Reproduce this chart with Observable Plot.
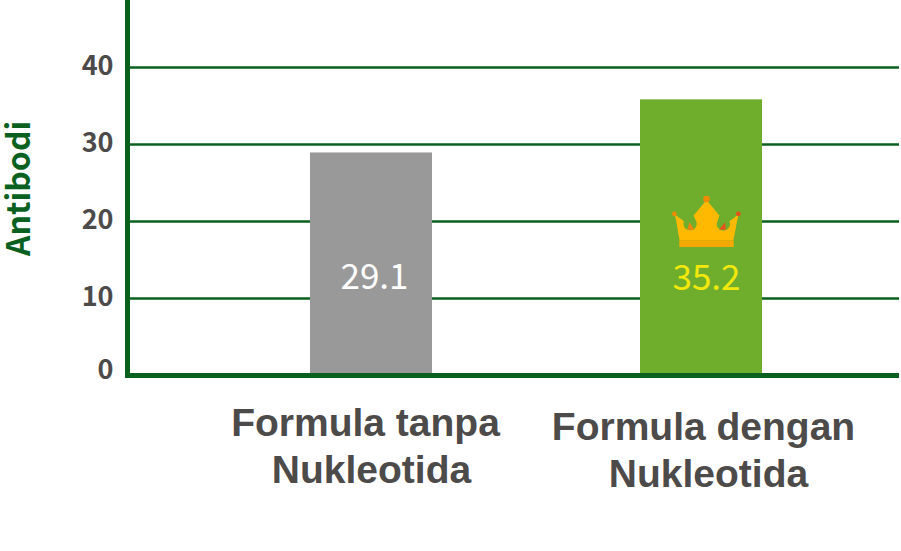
<!DOCTYPE html>
<html><head><meta charset="utf-8">
<style>html,body{margin:0;padding:0;background:#fff}svg{display:block}</style>
<script src="https://cdn.jsdelivr.net/npm/d3@7"></script>
<script src="https://cdn.jsdelivr.net/npm/@observablehq/plot@0.6"></script>
</head><body><div id="c"></div>
<script>
const categories = ["Formula tanpa\nNukleotida", "Formula dengan\nNukleotida"];
const barValues = [28.9, 35.8];
const valueLabels = ["29.1", "35.2"];
const valueColors = ["#ffffff", "#f2e80c"];
const barColors = ["#999999", "#6fae2d"];
const yTicks = [10, 20, 30, 40];
const green = "#0a611f", grey = "#4d4a4a";
const rows = categories.map((c, i) => ({c, v: barValues[i], t: valueLabels[i], tc: valueColors[i], bc: barColors[i]}));
const crownSvg = `<svg xmlns="http://www.w3.org/2000/svg" viewBox="95 45 208 156" width="208" height="156">
<path fill="#ffb900" d="M118 180L104 102L131 122A20 20 0 1 0 168 122L160 105L199 58L238 105L232 122A20 20 0 1 0 268 122L295 102L280 180Z"/>
<path fill="#f0820f" d="M141 148L148 125L162 148Z"/>
<path fill="#e8501c" d="M237 147L255 125L257 148Z"/>
<rect x="117" y="180" width="164" height="20" fill="#f5a900"/>
<circle cx="199" cy="55" r="10" fill="#f08a00"/><circle cx="102" cy="100" r="7" fill="#f08a00"/><circle cx="295" cy="100" r="7" fill="#e8501c"/></svg>`;
const crownSrc = "data:image/svg+xml," + encodeURIComponent(crownSvg);
const tickFont = {fontFamily: "Noto Sans CJK SC", fontWeight: 700, fontSize: 27};
const labelFont = {lineAnchor: "top", fill: grey, fontFamily: "Liberation Sans", fontWeight: 700, fontSize: 39};
const line = (i) => (d) => d.c.split("\n")[i];
const chart = Plot.plot({
  width: 901, height: 551,
  marginTop: 0, marginLeft: 127, marginRight: 2, marginBottom: 176,
  style: {background: "#fff", overflow: "visible"},
  x: {domain: categories, range: [206, 866], paddingInner: 0.63, paddingOuter: 0.315, axis: null},
  y: {domain: [0, 48.7], axis: null},
  marks: [
    Plot.ruleY(yTicks, {stroke: green, strokeWidth: 2.5}),
    Plot.barY(rows, {x: "c", y: "v", fill: "bc"}),
    Plot.frame({anchor: "left", stroke: green, strokeWidth: 5}),
    Plot.ruleY([0], {stroke: green, strokeWidth: 5}),
    Plot.axisY(yTicks, {anchor: "left", tickSize: 0, tickPadding: 14, dy: -1, label: null, color: grey, ...tickFont}),
    Plot.axisY([0], {anchor: "left", tickSize: 0, tickPadding: 14, dy: -5, label: null, color: grey, ...tickFont}),
    Plot.text(["Antibodi"], {frameAnchor: "left", y: [24.3], dx: -108, rotate: -90, fill: green, textAnchor: "middle", fontFamily: "Noto Sans CJK SC", fontWeight: 700, fontSize: 32}),
    Plot.text(rows.slice(0, 1), {x: "c", y: [0], text: line(0), dx: -6, dy: 33, ...labelFont}),
    Plot.text(rows.slice(0, 1), {x: "c", y: [0], text: line(1), dx: 0, dy: 80, ...labelFont}),
    Plot.text(rows.slice(1), {x: "c", y: [0], text: line(0), dx: 2, dy: 37, ...labelFont}),
    Plot.text(rows.slice(1), {x: "c", y: [0], text: line(1), dx: 7, dy: 84, ...labelFont}),
    Plot.text(rows.slice(0, 1), {x: "c", y: [0], text: "t", fill: "tc", dx: 3, dy: -98, fontFamily: "Noto Sans CJK SC", fontWeight: 400, fontSize: 35}),
    Plot.text(rows.slice(1), {x: "c", y: [0], text: "t", fill: "tc", dx: 5, dy: -97, fontFamily: "Noto Sans CJK SC", fontWeight: 400, fontSize: 35}),
    Plot.image(rows.slice(1), {x: "c", y: [0], src: [crownSrc], width: 69, height: 52, dx: 5, dy: -154})
  ]
});
document.getElementById("c").append(chart);
</script></body></html>
